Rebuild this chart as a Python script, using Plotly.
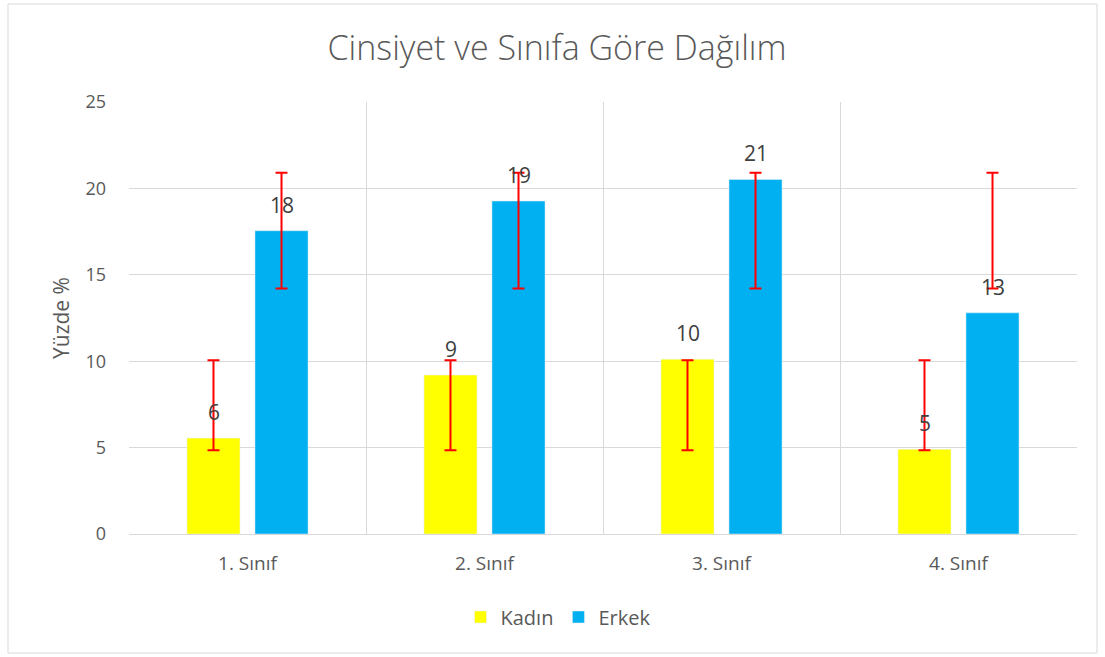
import plotly.graph_objects as go

categories = ["1. Sınıf", "2. Sınıf", "3. Sınıf", "4. Sınıf"]
kadin = [5.55, 9.2, 10.12, 4.9]
erkek = [17.55, 19.27, 20.52, 12.8]
kadin_err_low = [4.85, 4.85, 4.85, 4.85]
kadin_err_high = [10.05, 10.05, 10.05, 10.05]
erkek_err_low = [14.2, 14.2, 14.2, 14.2]
erkek_err_high = [20.9, 20.9, 20.9, 20.9]

W, H = 1105, 657
L, R, T, B = 129, 28, 102, 123
pw, ph = W - L - R, H - T - B

font = "Open Sans"
grey = "#595959"

def err(vals, lo, hi):
    return dict(type="data", symmetric=False,
                array=[h - v for v, h in zip(vals, hi)],
                arrayminus=[v - l for v, l in zip(vals, lo)],
                color="#FF0000", thickness=2, width=6)

fig = go.Figure()
fig.add_trace(go.Bar(x=categories, y=kadin, name="Kadın", marker_color="#FFFF00",
                     error_y=err(kadin, kadin_err_low, kadin_err_high)))
fig.add_trace(go.Bar(x=categories, y=erkek, name="Erkek", marker_color="#00B0F0",
                     error_y=err(erkek, erkek_err_low, erkek_err_high)))

annotations = []
for vals, shift in ((kadin, -34), (erkek, 34)):
    for c, v in zip(categories, vals):
        annotations.append(dict(x=c, y=v, xref="x", yref="y", text=f"{v:.0f}",
                                showarrow=False, xshift=shift, yshift=26,
                                font=dict(family=font, size=21, color="#404040")))

fig.update_layout(
    width=W, height=H,
    margin=dict(l=L, r=R, t=T, b=B),
    paper_bgcolor="white", plot_bgcolor="white",
    barmode="group", bargap=0.426, bargroupgap=0.22,
    title=dict(text="Cinsiyet ve Sınıfa Göre Dağılım", x=557 / W, xanchor="center",
               y=1 - 48 / H, yanchor="middle",
               font=dict(family=font, size=34, color=grey, weight=300)),
    font=dict(family=font, color=grey),
    legend=dict(orientation="h", x=(558 - L) / pw, xanchor="center", y=-(617 - 534) / ph,
                yanchor="middle", font=dict(family=font, size=20, color=grey),
                itemwidth=30, traceorder="normal"),
    annotations=annotations,
    shapes=[dict(type="rect", xref="paper", yref="paper",
                 x0=(8 - L) / pw, x1=(1097 - L) / pw,
                 y0=(H - 653 - B) / ph, y1=(H - 4 - B) / ph,
                 line=dict(color="#D9D9D9", width=1), layer="below")],
)
fig.update_xaxes(type="category", tickson="boundaries", showgrid=True, gridcolor="#D9D9D9",
                 gridwidth=1, ticks="", showline=True, linecolor="#D9D9D9",
                 tickfont=dict(family=font, size=19, color=grey), ticklabelstandoff=12,
                 mirror=False)
fig.update_yaxes(range=[0, 25], dtick=5, showgrid=True, gridcolor="#D9D9D9", gridwidth=1,
                 zeroline=False, showline=False, ticks="",
                 tickfont=dict(family=font, size=18, color=grey), ticklabelstandoff=22,
                 title=dict(text="Yüzde %", font=dict(family=font, size=21, color=grey),
                            standoff=10))

fig.write_html("out.html", config={"displayModeBar": False},
               post_script="document.body.style.margin='0';")
